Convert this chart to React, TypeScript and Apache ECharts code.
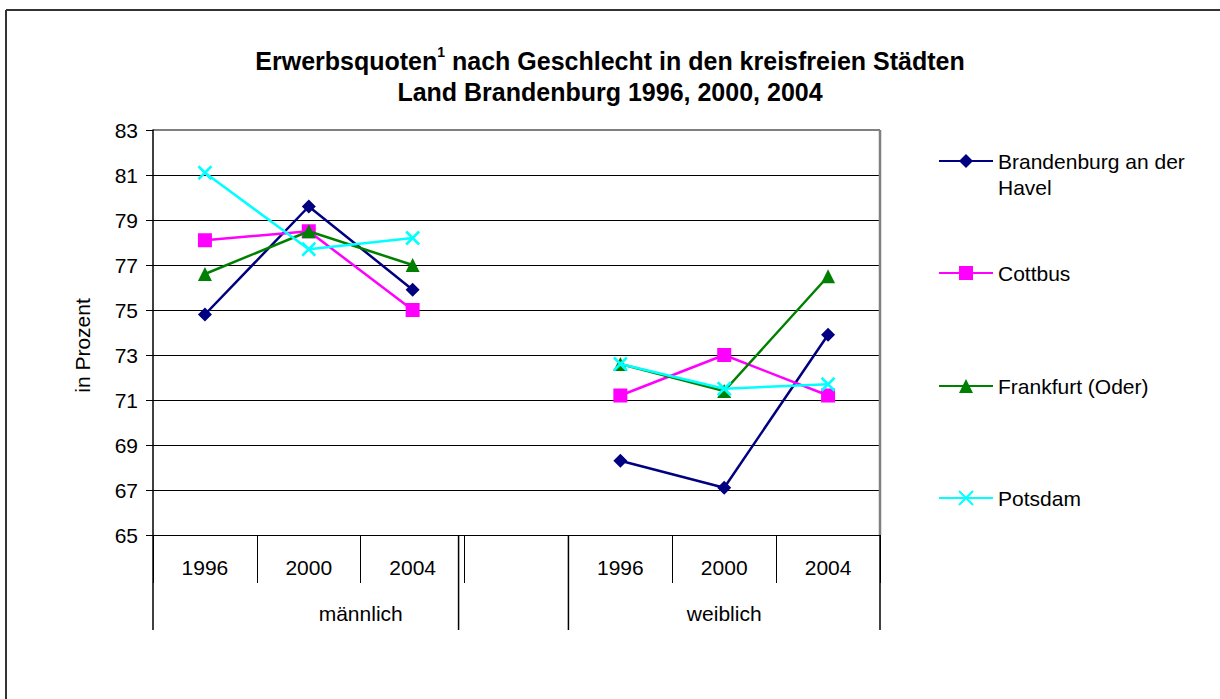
import React, { useEffect, useRef } from "react";
import * as echarts from "echarts";

const categories = ["1996", "2000", "2004", "", "1996", "2000", "2004"];
const groupNames = ["männlich", "weiblich"];
const seriesNames = ["Brandenburg an der Havel", "Cottbus", "Frankfurt (Oder)", "Potsdam"];
const brandenburg = [74.8, 79.6, 75.9, null, 68.3, 67.1, 73.9];
const cottbus = [78.1, 78.5, 75.0, null, 71.2, 73.0, 71.2];
const frankfurt = [76.6, 78.5, 77.0, null, 72.6, 71.4, 76.5];
const potsdam = [81.1, 77.7, 78.2, null, 72.6, 71.5, 71.7];
const yMin = 65;
const yMax = 83;
const yInterval = 2;
const titleLine1a = "Erwerbsquoten";
const titleSup = "1";
const titleLine1b = " nach Geschlecht in den kreisfreien Städten";
const titleLine2 = "Land Brandenburg 1996, 2000, 2004";
const yName = "in Prozent";

const FONT = "'Liberation Sans', Arial, Helvetica, sans-serif";
const colors = ["#000080", "#FF00FF", "#008000", "#00FFFF"];
const symbols = ["diamond", "rect", "triangle", "path://M0,0L10,10M10,0L0,10"];
const values = [brandenburg, cottbus, frankfurt, potsdam];
const legendTops = [122, 261, 374, 486];

export default function App() {
  const ref = useRef<HTMLDivElement>(null);
  useEffect(() => {
    if (!ref.current) return;
    const chart = echarts.init(ref.current, null, { renderer: "svg" });
    const series = seriesNames.map((name, i) => ({
      name,
      type: "line",
      data: values[i],
      symbol: symbols[i],
      symbolSize: i === 3 ? 13 : 14,
      showSymbol: true,
      connectNulls: false,
      lineStyle: { color: colors[i], width: 2.5 },
      itemStyle:
        i === 3
          ? { color: colors[i], borderColor: colors[i], borderWidth: 2.5 }
          : { color: colors[i], borderWidth: 0 },
      emphasis: { disabled: true },
      silent: true,
      z: 2 + i,
    }));
    const legends = seriesNames.map((name, i) => ({
      orient: "vertical",
      left: 938,
      top: legendTops[i],
      padding: 0,
      itemWidth: 54,
      itemHeight: 17.5,
      selectedMode: false,
      data: [name],
      formatter: i === 0 ? () => "\nBrandenburg an der\nHavel" : undefined,
      textStyle: {
        fontFamily: FONT,
        fontSize: 21,
        color: "#000",
        lineHeight: i === 0 ? 26 : 24,
      },
    }));
    chart.setOption({
      animation: false,
      backgroundColor: "#fff",
      title: {
        left: "center",
        top: 45,
        padding: [0, 0, 0, 10],
        text: `{b|${titleLine1a}}{s|${titleSup}}{b|${titleLine1b}}\n{b|${titleLine2}}`,
        textStyle: {
          rich: {
            b: { fontFamily: FONT, fontWeight: "bold", fontSize: 25, lineHeight: 31, color: "#000" },
            s: { fontFamily: FONT, fontWeight: "bold", fontSize: 14, lineHeight: 14, verticalAlign: "top", color: "#000" },
          },
        },
      },
      legend: legends,
      grid: { left: 153, right: 340, top: 130, bottom: 164, containLabel: false },
      xAxis: {
        type: "category",
        data: categories,
        boundaryGap: true,
        axisLine: { show: true, lineStyle: { color: "#000", width: 1 } },
        axisTick: { show: true, interval: 0, length: 48, lineStyle: { color: "#000", width: 1 } },
        axisLabel: { interval: 0, margin: 22, fontFamily: FONT, fontSize: 21, color: "#000" },
        splitLine: { show: false },
      },
      yAxis: {
        type: "value",
        min: yMin,
        max: yMax,
        interval: yInterval,
        name: yName,
        nameLocation: "middle",
        nameGap: 60,
        nameTextStyle: { fontFamily: FONT, fontSize: 21, color: "#000", padding: [0, 26, 0, 0] },
        axisLine: { show: true, lineStyle: { color: "#000", width: 1.5 } },
        axisTick: { show: true, length: 7, lineStyle: { color: "#000" } },
        axisLabel: { margin: 15, fontFamily: FONT, fontSize: 21, color: "#000" },
        splitLine: { show: true, lineStyle: { color: "#000", width: 1 } },
      },
      series,
    });

    const px = (i: number) => chart.convertToPixel({ xAxisIndex: 0 }, i) as number;
    const yBottom = chart.convertToPixel({ yAxisIndex: 0 }, yMin) as number;
    const yTop = chart.convertToPixel({ yAxisIndex: 0 }, yMax) as number;
    const w = px(1) - px(0);
    const left = px(0) - w / 2;
    const right = px(categories.length - 1) + w / 2;
    const mEnd = px(2) + w / 2 - 6;
    const wStart = px(4) - w / 2;
    const lineStyle = { stroke: "#000", lineWidth: 1.5 };
    const longY2 = yBottom + 95;
    const graphic: any[] = [
      { type: "line", shape: { x1: 6, y1: 10, x2: 6, y2: 699 }, style: { stroke: "#333", lineWidth: 2 } },
      { type: "line", shape: { x1: 6, y1: 10, x2: 1220, y2: 10 }, style: { stroke: "#333", lineWidth: 2 } },
      { type: "line", shape: { x1: left, y1: yTop, x2: right, y2: yTop }, style: { stroke: "#808080", lineWidth: 2 } },
      { type: "line", shape: { x1: right, y1: yTop, x2: right, y2: yBottom }, style: { stroke: "#808080", lineWidth: 2.5 } },
      { type: "line", shape: { x1: left, y1: yBottom, x2: left, y2: longY2 }, style: lineStyle },
      { type: "line", shape: { x1: mEnd, y1: yBottom, x2: mEnd, y2: longY2 }, style: lineStyle },
      { type: "line", shape: { x1: wStart, y1: yBottom, x2: wStart, y2: longY2 }, style: lineStyle },
      { type: "line", shape: { x1: right, y1: yBottom, x2: right, y2: longY2 }, style: lineStyle },
      {
        type: "text",
        x: (left + px(3) + w / 2) / 2,
        y: yBottom + 78,
        style: { text: groupNames[0], fontFamily: FONT, fontSize: 21, fill: "#000", align: "center", verticalAlign: "middle" },
      },
      {
        type: "text",
        x: (wStart + right) / 2,
        y: yBottom + 78,
        style: { text: groupNames[1], fontFamily: FONT, fontSize: 21, fill: "#000", align: "center", verticalAlign: "middle" },
      },
    ];
    chart.setOption({ graphic });
    return () => chart.dispose();
  }, []);
  return (
    <div
      ref={ref}
      style={{ position: "fixed", left: 0, top: 0, width: 1220, height: 699, background: "#fff" }}
    />
  );
}
